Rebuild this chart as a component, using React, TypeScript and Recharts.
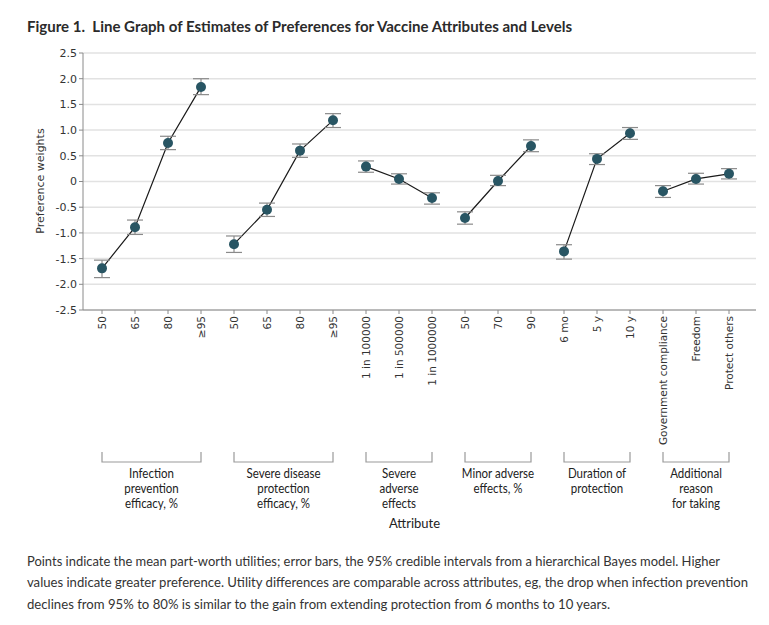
import { LineChart, Line, XAxis, YAxis, CartesianGrid, ErrorBar } from "recharts";

const levels = [
  "50", "65", "80", "≥95",
  "50", "65", "80", "≥95",
  "1 in 100000", "1 in 500000", "1 in 1000000",
  "50", "70", "90",
  "6 mo", "5 y", "10 y",
  "Government compliance", "Freedom", "Protect others",
];
const groupOf = [0, 0, 0, 0, 1, 1, 1, 1, 2, 2, 2, 3, 3, 3, 4, 4, 4, 5, 5, 5];
const groupNames = [
  ["Infection", "prevention", "efficacy, %"],
  ["Severe disease", "protection", "efficacy, %"],
  ["Severe", "adverse", "effects"],
  ["Minor adverse", "effects, %"],
  ["Duration of", "protection"],
  ["Additional", "reason", "for taking"],
];
const means = [-1.69, -0.89, 0.75, 1.84, -1.22, -0.55, 0.6, 1.19, 0.29, 0.05, -0.32, -0.71, 0.01, 0.69, -1.36, 0.44, 0.94, -0.19, 0.05, 0.15];
const lower = [-1.87, -1.03, 0.62, 1.69, -1.38, -0.68, 0.47, 1.05, 0.18, -0.05, -0.44, -0.83, -0.08, 0.58, -1.51, 0.33, 0.82, -0.31, -0.05, 0.05];
const upper = [-1.53, -0.75, 0.88, 2.0, -1.06, -0.42, 0.73, 1.32, 0.4, 0.15, -0.22, -0.59, 0.12, 0.81, -1.23, 0.54, 1.05, -0.08, 0.16, 0.25];
const yTicks = [-2.5, -2.0, -1.5, -1.0, -0.5, 0, 0.5, 1.0, 1.5, 2.0, 2.5];

const title = "Figure 1.  Line Graph of Estimates of Preferences for Vaccine Attributes and Levels";
const footnote = [
  "Points indicate the mean part-worth utilities; error bars, the 95% credible intervals from a hierarchical Bayes model. Higher",
  "values indicate greater preference. Utility differences are comparable across attributes, eg, the drop when infection prevention",
  "declines from 95% to 80% is similar to the gain from extending protection from 6 months to 10 years.",
];
const footnoteWidths = [693, 721, 583];

const data = levels.map((level, i) => {
  const row: Record<string, any> = {
    level,
    pref: means[i],
    err: [means[i] - lower[i], upper[i] - means[i]],
  };
  row["g" + groupOf[i]] = means[i];
  return row;
});

const CHART_W = 769;
const MARGIN_R = 13;
const Y_W = 83;
const PAD_L = 19;
const PAD_R = 27;
// point scale: distance between neighbouring levels
const STEP = (CHART_W - MARGIN_R - Y_W - PAD_L - PAD_R) / (levels.length - 1);

const tickFont = "'DejaVu Sans', Verdana, sans-serif";
const textFont = "Lato, 'Noto Sans', sans-serif";

function LevelTick(props: any) {
  const { x, y, payload } = props;
  const i = payload.index;
  const g = groupOf[i];
  const first = i === 0 || groupOf[i - 1] !== g;
  let bracket = null;
  if (first) {
    const n = groupOf.filter((v) => v === g).length;
    const w = (n - 1) * STEP;
    bracket = (
      <g>
        <path
          d={`M0,136 V146 H${w} V136`}
          fill="none"
          stroke="#9a9a9a"
          strokeWidth={1.2}
        />
        {groupNames[g].map((line, k) => (
          <text
            key={k}
            transform={`translate(${w / 2},${162 + k * 14.8}) scale(0.92,1)`}
            textAnchor="middle"
            fontSize={12.5}
            fontFamily={textFont}
            fill="#222"
          >
            {line}
          </text>
        ))}
      </g>
    );
  }
  return (
    <g transform={`translate(${x},${y})`}>
      <text
        transform="rotate(-90)"
        textAnchor="end"
        dy="0.35em"
        fontSize={10.5}
        fontFamily={tickFont}
        fill="#333"
      >
        {payload.value}
      </text>
      {bracket}
    </g>
  );
}

export default function App() {
  return (
    <div
      style={{
        position: "absolute",
        left: 0,
        top: 0,
        width: 769,
        height: 625,
        background: "#fff",
        overflow: "hidden",
      }}
    >
      <div
        style={{
          position: "absolute",
          left: 40,
          top: 181,
          transform: "translate(-50%, -50%) rotate(-90deg)",
          fontFamily: tickFont,
          fontSize: 11,
          color: "#333",
          whiteSpace: "nowrap",
        }}
      >
        Preference weights
      </div>
      <div style={{ position: "absolute", left: 0, top: 0 }}>
        <LineChart
          width={CHART_W}
          height={540}
          data={data}
          margin={{ top: 53, right: MARGIN_R, left: 0, bottom: 0 }}
        >
          <CartesianGrid vertical={false} stroke="#e2e2e2" strokeWidth={1.5} />
          <XAxis
            dataKey="level"
            height={230}
            interval={0}
            padding={{ left: PAD_L, right: PAD_R }}
            tickSize={4}
            tickMargin={2}
            axisLine={{ stroke: "#8a8a8a" }}
            tickLine={{ stroke: "#8a8a8a" }}
            tick={<LevelTick />}
            label={{
              value: "Attribute",
              position: "insideBottom",
              offset: 12,
              dx: -5,
              fontSize: 13,
              fontFamily: textFont,
              fill: "#222",
            }}
          />
          <YAxis
            width={Y_W}
            domain={[-2.5, 2.5]}
            ticks={yTicks}
            interval={0}
            tickSize={4}
            axisLine={{ stroke: "#8a8a8a" }}
            tickLine={{ stroke: "#8a8a8a" }}
            tick={{ fill: "#333", fontSize: 11, fontFamily: tickFont }}
            tickFormatter={(v: number) => (v === 0 ? "0" : v.toFixed(1))}
          />
          {groupNames.map((_, g) => (
            <Line
              key={g}
              dataKey={"g" + g}
              stroke="#1a1a1a"
              strokeWidth={1.2}
              dot={false}
              activeDot={false}
              connectNulls={false}
              isAnimationActive={false}
            />
          ))}
          <Line
            dataKey="pref"
            stroke="none"
            dot={{ r: 5, fill: "#285563", stroke: "#285563", strokeWidth: 0 }}
            activeDot={false}
            isAnimationActive={false}
          >
            <ErrorBar dataKey="err" width={8} stroke="#8a8a8a" strokeWidth={1.2} direction="y" />
          </Line>
        </LineChart>
      </div>
      <svg
        width={769}
        height={625}
        style={{ position: "absolute", left: 0, top: 0, pointerEvents: "none" }}
      >
        <text
          x={27}
          y={31.5}
          fontFamily={textFont}
          fontWeight={700}
          fontSize={15.5}
          fill="#2b2b2b"
          textLength={545}
          lengthAdjust="spacingAndGlyphs"
          style={{ whiteSpace: "pre" }}
        >
          {title}
        </text>
        {footnote.map((line, k) => (
          <text
            key={k}
            x={27}
            y={565.5 + k * 21.5}
            fontFamily={textFont}
            fontSize={13.2}
            fill="#333"
            textLength={footnoteWidths[k]}
            lengthAdjust="spacingAndGlyphs"
          >
            {line}
          </text>
        ))}
      </svg>
    </div>
  );
}
